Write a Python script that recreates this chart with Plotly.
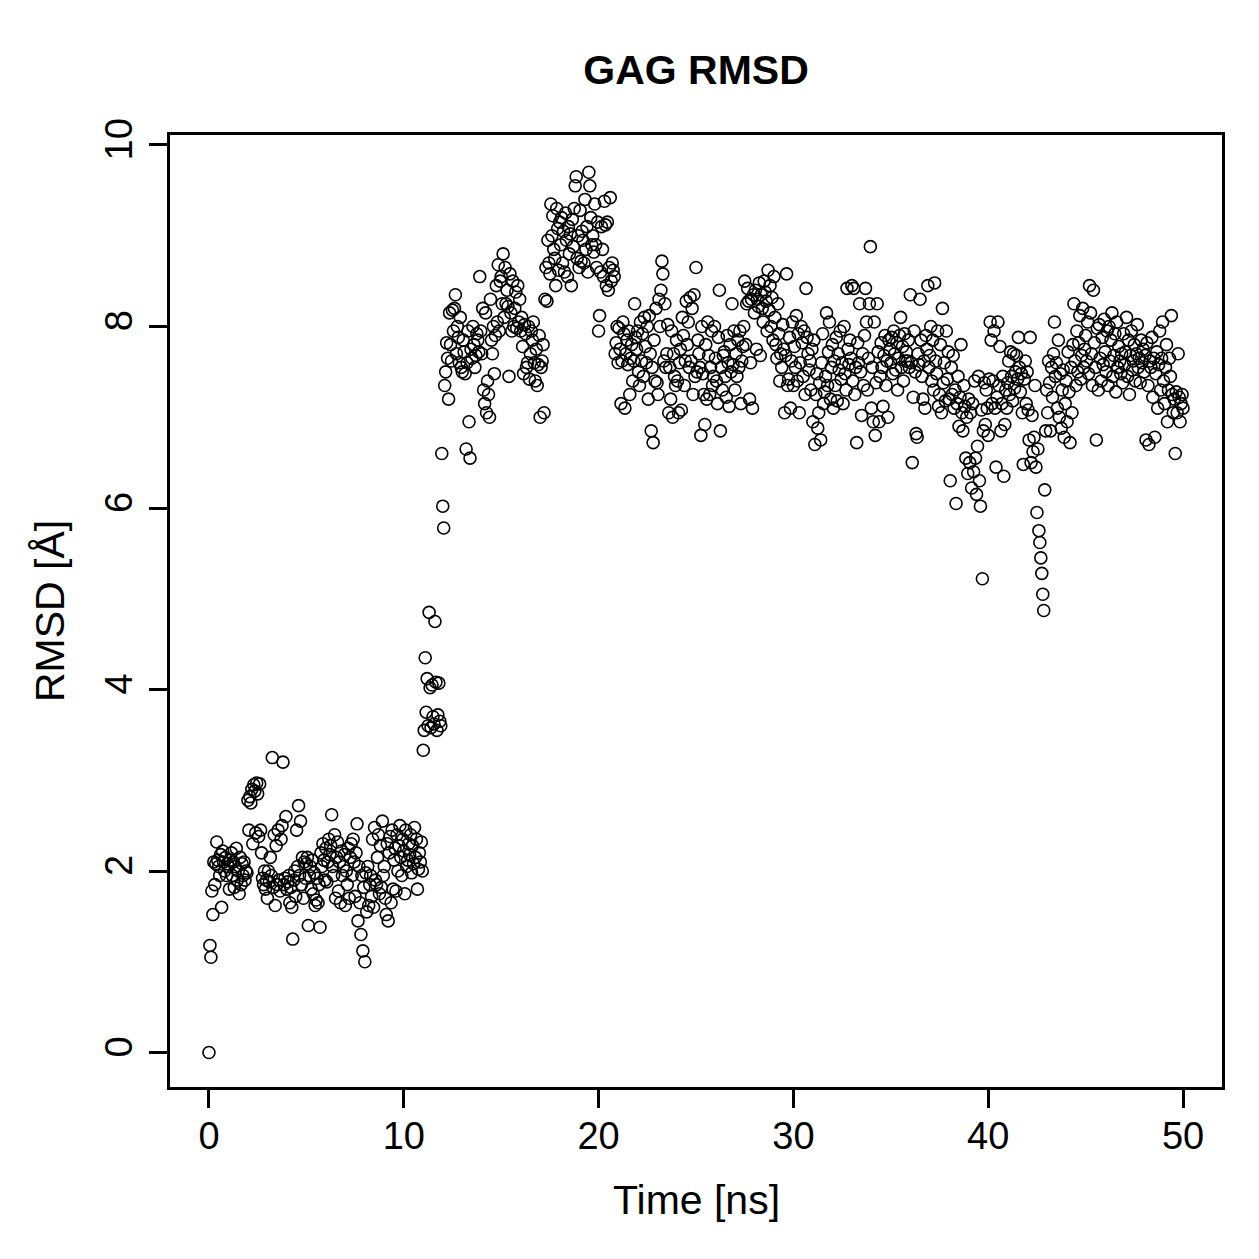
import numpy as np
import plotly.graph_objects as go

# Time axis: frames every 0.05 ns from 0 to 50 ns
time_ns = np.round(np.arange(0, 1001) * 0.05, 2)

# RMSD values (Å), one list per 10 ns block (20 frames per ns)
rmsd_00_10 = [
    0.00, 1.18, 1.05, 1.78, 1.52, 2.10, 1.85, 2.08, 2.32, 2.12, 2.05, 1.95, 2.18, 1.60, 2.22, 2.10, 2.00, 2.15, 1.95, 2.08,
    2.05, 1.80, 2.12, 2.20, 1.95, 2.10, 1.82, 2.05, 2.25, 1.90, 2.00, 1.75, 2.15, 1.85, 2.08, 1.95, 2.10, 1.90, 2.00, 1.98,
    2.78, 2.45, 2.82, 2.75, 2.90, 2.30, 2.95, 2.88, 2.42, 2.97, 2.85, 2.38, 2.96, 2.45, 2.20, 1.92, 1.85, 2.00, 1.80, 1.90,
    1.70, 2.00, 1.88, 2.15, 1.95, 3.25, 1.82, 2.40, 1.62, 2.28, 1.85, 2.45, 1.90, 1.78, 2.35, 2.50, 3.20, 1.85, 1.92, 2.60,
    1.80, 1.88, 1.95, 1.65, 1.82, 1.60, 1.25, 1.90, 2.00, 1.72, 2.45, 2.05, 2.72, 1.95, 2.55, 1.85, 2.15, 1.70, 2.10, 1.92,
    2.08, 2.15, 1.40, 1.95, 2.05, 1.80, 2.12, 1.75, 1.98, 1.62, 1.68, 1.92, 1.65, 1.85, 1.38, 2.20, 2.05, 2.30, 2.12, 1.90,
    2.25, 1.88, 2.10, 2.35, 2.18, 2.28, 2.62, 2.05, 1.95, 2.40, 1.70, 2.15, 2.32, 1.78, 2.10, 1.65, 2.22, 1.95, 2.05, 2.18,
    1.62, 2.00, 1.85, 2.25, 1.70, 2.15, 2.30, 1.95, 2.35, 2.10, 1.72, 2.20, 2.52, 1.45, 2.05, 1.65, 1.30, 1.95, 1.12, 1.82,
    1.00, 1.98, 1.55, 2.05, 1.62, 1.85, 1.95, 1.72, 2.35, 1.60, 2.48, 1.90, 1.85, 2.15, 2.40, 1.75, 2.28, 1.82, 2.55, 1.95,
    2.05, 1.70, 1.52, 2.30, 1.45, 2.20, 2.38, 1.65, 2.45, 1.80, 2.12, 2.25, 1.78, 2.40, 2.00, 2.28, 2.50, 2.15, 1.95, 2.35,
]
rmsd_10_20 = [
    2.22, 1.75, 2.45, 2.05, 2.12, 2.30, 2.18, 2.40, 1.98, 2.28, 2.08, 2.48, 2.15, 2.35, 1.80, 2.02, 2.20, 2.10, 2.32, 2.00,
    3.33, 3.55, 4.35, 3.75, 4.12, 3.60, 4.85, 4.02, 3.58, 4.05, 3.70, 3.62, 4.75, 4.08, 3.55, 3.72, 4.07, 3.65, 3.60, 6.60,
    6.02, 5.78, 7.35, 7.50, 7.82, 7.65, 7.20, 8.15, 7.80, 7.62, 8.18, 7.95, 8.20, 8.35, 7.70, 8.00, 7.88, 7.60, 8.10, 7.55,
    7.50, 7.85, 7.72, 7.48, 6.65, 7.60, 7.95, 6.95, 6.55, 7.75, 7.65, 8.00, 7.80, 7.55, 7.68, 7.92, 7.85, 7.72, 8.55, 7.95,
    7.70, 8.20, 7.30, 7.15, 8.15, 7.05, 7.40, 7.25, 7.00, 8.30, 7.85, 7.70, 8.00, 7.48, 7.90, 8.45, 8.05, 8.68, 7.95, 8.50,
    8.55, 8.25, 8.80, 8.10, 8.65, 8.25, 8.40, 8.22, 7.45, 8.58, 8.15, 7.95, 8.50, 8.00, 8.20, 8.38, 7.98, 8.45, 8.05, 8.30,
    7.95, 8.10, 7.78, 7.48, 8.02, 7.92, 7.55, 7.60, 8.00, 7.42, 7.70, 7.95, 7.85, 8.05, 7.60, 7.40, 7.75, 7.35, 7.58, 7.90,
    7.00, 7.55, 7.62, 7.80, 7.05, 8.30, 8.65, 8.28, 8.95, 8.70, 8.58, 9.35, 9.00, 9.22, 8.85, 8.75, 8.45, 9.30, 9.08, 8.62,
    9.15, 8.90, 9.20, 8.70, 9.05, 8.60, 9.25, 8.95, 8.55, 9.10, 8.80, 9.02, 8.45, 9.18, 8.88, 9.30, 9.55, 9.65, 8.75, 9.00,
    8.65, 9.28, 8.72, 9.05, 8.95, 8.70, 9.40, 8.85, 9.10, 8.60, 9.70, 9.55, 9.20, 8.90, 9.00, 8.82, 9.35, 8.90, 8.65, 9.15,
]
rmsd_20_30 = [
    7.95, 8.12, 8.60, 9.10, 8.85, 8.55, 9.38, 9.12, 8.45, 9.15, 8.40, 8.65, 9.42, 8.50, 8.70, 8.62, 8.55, 7.70, 7.82, 8.00,
    7.60, 7.98, 7.75, 7.15, 7.62, 8.05, 7.92, 7.10, 7.70, 7.85, 7.58, 7.95, 7.25, 7.65, 7.80, 7.40, 7.62, 8.25, 7.88, 7.75,
    7.95, 7.50, 7.35, 8.05, 7.62, 7.92, 7.45, 8.10, 7.78, 7.60, 8.00, 7.20, 8.12, 7.70, 6.85, 7.55, 6.72, 7.85, 7.40, 8.20,
    7.38, 7.25, 8.30, 8.00, 8.40, 8.72, 8.58, 7.62, 8.25, 7.55, 7.70, 8.02, 7.05, 7.55, 7.20, 7.95, 7.00, 7.70, 7.45, 7.35,
    7.85, 7.40, 7.05, 7.60, 7.75, 7.08, 8.10, 7.90, 7.35, 7.62, 8.28, 7.80, 8.05, 7.55, 8.32, 7.62, 8.20, 7.25, 8.35, 7.45,
    8.65, 7.50, 7.85, 7.70, 7.55, 6.80, 8.00, 7.48, 7.25, 6.92, 7.80, 7.20, 8.05, 7.68, 7.25, 7.55, 7.95, 7.35, 7.45, 8.00,
    7.65, 7.40, 7.15, 7.88, 8.40, 6.85, 7.55, 7.30, 7.68, 7.72, 7.45, 7.22, 7.90, 7.60, 7.12, 7.80, 7.50, 8.25, 7.58, 7.95,
    7.30, 7.70, 7.45, 7.85, 7.55, 7.95, 7.15, 7.62, 7.78, 8.00, 8.50, 7.80, 8.25, 8.42, 8.28, 7.20, 7.60, 8.30, 7.10, 8.35,
    8.15, 8.40, 7.75, 8.30, 8.22, 8.48, 7.68, 8.35, 8.20, 8.05, 8.50, 8.38, 8.28, 7.95, 8.62, 8.18, 8.45, 8.00, 8.32, 7.85,
    8.55, 8.10, 7.80, 7.65, 8.25, 7.92, 7.40, 7.70, 7.55, 8.02, 7.75, 7.05, 7.68, 8.58, 7.35, 7.42, 7.88, 7.10, 7.62, 8.05,
]
rmsd_30_40 = [
    7.35, 7.78, 7.55, 8.12, 7.40, 7.92, 7.05, 7.60, 8.00, 7.82, 7.45, 7.95, 7.25, 8.42, 7.88, 7.70, 7.52, 7.62, 7.30, 7.75,
    6.95, 7.85, 6.70, 7.25, 7.48, 6.88, 7.05, 7.38, 6.75, 7.60, 7.92, 7.15, 7.28, 7.45, 8.15, 7.35, 7.72, 8.05, 7.20, 7.55,
    7.80, 7.10, 7.62, 7.35, 7.88, 7.18, 7.70, 7.52, 7.95, 7.42, 7.60, 7.15, 8.00, 7.48, 7.30, 8.42, 7.75, 7.58, 7.85, 7.65,
    8.45, 7.40, 8.42, 7.25, 7.55, 6.72, 7.82, 7.60, 8.25, 7.50, 7.02, 7.70, 7.35, 7.90, 8.42, 8.05, 7.30, 7.65, 8.25, 8.88,
    7.10, 7.55, 6.95, 8.05, 6.80, 7.38, 8.25, 7.72, 6.95, 7.45, 7.82, 7.55, 7.12, 7.68, 7.90, 7.35, 7.62, 7.00, 7.85, 7.75,
    7.60, 7.88, 7.48, 7.95, 7.70, 7.52, 7.82, 7.30, 7.65, 7.90, 8.10, 7.55, 7.78, 7.40, 7.92, 7.62, 7.72, 7.62, 7.85, 7.55,
    8.35, 7.60, 6.50, 7.22, 7.95, 7.50, 6.82, 6.78, 7.70, 7.58, 8.30, 7.85, 7.45, 7.20, 7.62, 7.10, 7.90, 7.75, 8.45, 7.55,
    7.68, 8.00, 7.40, 7.85, 7.30, 8.48, 7.62, 7.48, 7.95, 7.12, 7.25, 7.80, 7.05, 8.20, 7.38, 7.60, 7.18, 7.95, 7.42, 7.72,
    7.20, 6.30, 7.55, 7.25, 7.68, 7.10, 7.30, 6.05, 7.15, 7.45, 6.90, 7.22, 7.80, 7.05, 6.85, 7.35, 7.12, 6.55, 7.00, 6.38,
    7.20, 6.50, 7.05, 6.22, 7.15, 6.40, 7.40, 6.55, 6.15, 6.68, 7.45, 6.30, 6.02, 7.08, 5.22, 6.85, 7.38, 6.92, 7.30, 7.10,
]
rmsd_40_50 = [
    6.80, 7.42, 8.05, 7.85, 7.15, 7.40, 7.95, 7.10, 6.45, 7.22, 8.05, 7.35, 7.78, 6.85, 7.15, 7.45, 6.35, 6.92, 7.30, 7.10,
    7.38, 7.62, 7.25, 7.72, 7.45, 7.18, 7.70, 7.32, 7.50, 7.68, 7.42, 7.88, 7.55, 7.28, 7.48, 7.05, 6.48, 7.42, 7.62, 7.15,
    7.50, 7.08, 6.75, 7.88, 6.50, 7.02, 6.62, 6.78, 7.35, 6.45, 5.95, 6.65, 5.75, 5.62, 5.45, 5.28, 5.05, 4.87, 6.20, 6.85,
    7.30, 7.05, 7.62, 7.38, 6.85, 7.55, 7.22, 7.70, 8.05, 7.45, 7.60, 7.10, 7.85, 7.00, 7.48, 6.88, 7.30, 7.52, 6.78, 7.15,
    7.40, 6.95, 7.72, 7.28, 6.72, 7.55, 7.05, 7.80, 8.25, 7.62, 7.35, 7.95, 7.50, 7.82, 8.12, 7.42, 7.68, 8.20, 7.55, 7.75,
    7.90, 7.62, 8.05, 7.48, 8.45, 8.15, 7.70, 7.35, 8.40, 7.82, 7.55, 6.75, 7.98, 7.30, 8.02, 7.65, 7.40, 7.88, 7.58, 8.08,
    7.72, 7.50, 7.95, 7.35, 8.00, 7.62, 7.85, 8.15, 7.45, 7.68, 7.92, 7.28, 8.05, 7.55, 7.78, 7.62, 7.48, 7.70, 7.38, 7.92,
    7.58, 7.72, 8.10, 7.45, 7.85, 7.25, 7.68, 7.95, 7.52, 7.62, 7.80, 7.40, 7.70, 8.02, 7.55, 7.65, 7.38, 7.85, 7.60, 7.75,
    7.50, 7.68, 6.75, 7.82, 7.35, 6.70, 7.62, 7.55, 7.88, 7.22, 7.65, 6.78, 7.48, 7.72, 7.10, 7.58, 7.95, 7.30, 7.65, 8.05,
    7.40, 7.15, 7.55, 7.80, 6.95, 7.30, 7.65, 7.45, 8.12, 7.25, 7.05, 7.20, 6.60, 7.28, 7.05, 7.70, 7.22, 6.95, 7.15, 7.25,
    7.10,
]
rmsd = rmsd_00_10 + rmsd_10_20 + rmsd_20_30 + rmsd_30_40 + rmsd_40_50

x_ticks = [0, 10, 20, 30, 40, 50]
y_ticks = [0, 2, 4, 6, 8, 10]

FONT = "Liberation Sans, Arial, Helvetica, sans-serif"
W = H = 1259
L, R, T, B = 170, 1222, 135, 1087

fig = go.Figure()
fig.add_trace(go.Scatter(
    x=time_ns, y=rmsd, mode="markers",
    marker=dict(symbol="circle-open", size=12, color="black", line=dict(width=1.6, color="black")),
    showlegend=False, hoverinfo="x+y",
))

fig.update_layout(
    width=W, height=H,
    paper_bgcolor="white", plot_bgcolor="white",
    margin=dict(l=L, r=W - R, t=T, b=H - B),
    font=dict(family=FONT, size=38, color="black"),
    title=dict(text="<b>GAG RMSD</b>", x=(L + R) / 2 / W, xanchor="center",
               y=1 - 70 / H, yanchor="middle", font=dict(size=41, family=FONT)),
    annotations=[
        dict(text="Time [ns]", xref="paper", yref="paper",
             x=0.5, y=-(1200 - B) / (B - T), xanchor="center", yanchor="middle",
             showarrow=False, font=dict(size=41, family=FONT)),
        dict(text="RMSD [Å]", xref="paper", yref="paper", textangle=-90,
             x=-(L - 50) / (R - L), y=0.5, xanchor="center", yanchor="middle",
             showarrow=False, font=dict(size=41, family=FONT)),
    ],
)
fig.update_xaxes(
    range=[-2, 52], tickvals=x_ticks, ticktext=[str(v) for v in x_ticks],
    showgrid=False, zeroline=False, showline=True, linecolor="black", linewidth=2.5, mirror=True,
    ticks="outside", ticklen=18, tickwidth=2.5, tickcolor="black",
    tickfont=dict(size=38), ticklabelstandoff=-4,
)
fig.update_yaxes(
    range=[-0.38, 10.11], tickvals=y_ticks, ticktext=[str(v) for v in y_ticks],
    showgrid=False, zeroline=False, showline=True, linecolor="black", linewidth=2.5, mirror=True,
    ticks="outside", ticklen=18, tickwidth=2.5, tickcolor="black", tickangle=-90,
    tickfont=dict(size=38), ticklabelstandoff=2,
)

fig.write_html("out.html")
